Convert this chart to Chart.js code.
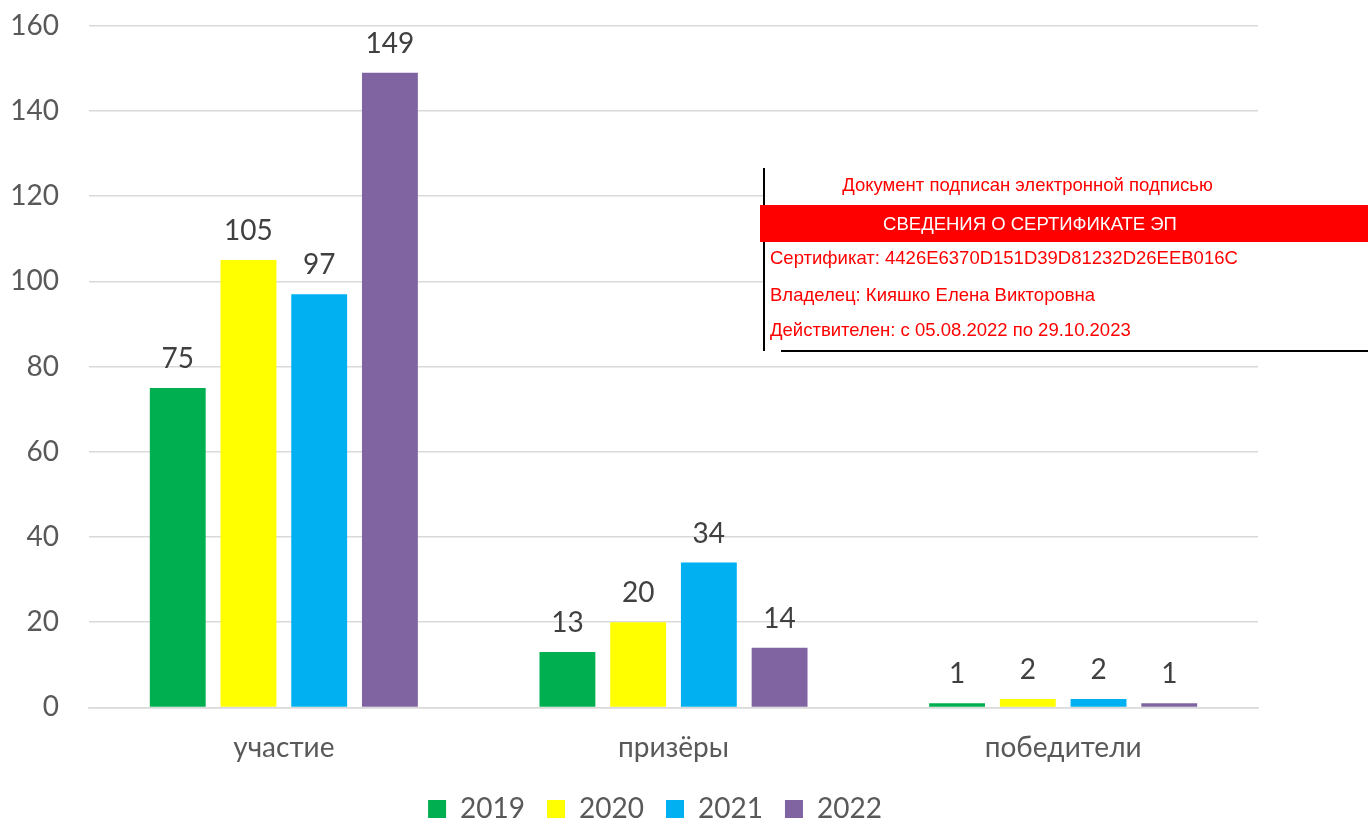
<!DOCTYPE html>
<html>
<head>
<meta charset="utf-8">
<script src="https://cdn.jsdelivr.net/npm/chart.js@4.4.0/dist/chart.umd.min.js"></script>
<style>
  html, body { margin: 0; padding: 0; background: #fff; }
  #wrap { position: relative; width: 1368px; height: 822px; overflow: hidden; }
  #chart { position: absolute; left: 0; top: -21px; }
  #sig {
    position: absolute; left: 763px; top: 168px; width: 605px; height: 183px;
    background: #fff; border-left: 2px solid #000;
    font-family: "Liberation Sans", sans-serif; font-size: 18.5px; color: #ff0000;
  }
  #sig .row { position: absolute; left: 5px; white-space: nowrap; }
  #sig .title { position: absolute; left: 0; right: 80px; top: 6px; text-align: center; }
  #sig .bar {
    position: absolute; left: -5px; right: 0; top: 37px; height: 37px;
    background: #ff0000; color: #fff; line-height: 37px;
  }
  #sig .bar span { position: absolute; left: 5px; right: 75px; text-align: center; }
  #sig .bottom { position: absolute; left: 16px; right: 2px; bottom: -1px; height: 2px; background: #000; }
</style>
</head>
<body>
<div id="wrap">
  <canvas id="chart" width="1368" height="862"></canvas>
  <div id="sig">
    <div class="title">Документ подписан электронной подписью</div>
    <div class="bar"><span>СВЕДЕНИЯ О СЕРТИФИКАТЕ ЭП</span></div>
    <div class="row" style="top:79px">Сертификат: 4426E6370D151D39D81232D26EEB016C</div>
    <div class="row" style="top:116px">Владелец: Кияшко Елена Викторовна</div>
    <div class="row" style="top:151px">Действителен: с 05.08.2022 по 29.10.2023</div>
    <div class="bottom"></div>
  </div>
</div>
<script>
const categories = ['участие', 'призёры', 'победители'];
const years = ['2019', '2020', '2021', '2022'];
const values2019 = [75, 13, 1];
const values2020 = [105, 20, 2];
const values2021 = [97, 34, 2];
const values2022 = [149, 14, 1];
const colors = ['#00B050', '#FFFF00', '#00B0F0', '#8064A2'];

const fontFamily = 'Lato, "Open Sans", sans-serif';

// value labels above each bar
const barLabels = {
  id: 'barLabels',
  afterDatasetsDraw(chart) {
    const ctx = chart.ctx;
    ctx.save();
    ctx.font = '28px ' + fontFamily;
    ctx.fillStyle = '#404040';
    ctx.textAlign = 'center';
    ctx.textBaseline = 'bottom';
    chart.data.datasets.forEach((ds, i) => {
      chart.getDatasetMeta(i).data.forEach((bar, j) => {
        ctx.fillText(ds.data[j], bar.x, bar.y - 15);
      });
    });
    ctx.restore();
  }
};

// nudge the legend a bit up and right, like the original
const legendNudge = {
  id: 'legendNudge',
  afterLayout(chart) {
    const l = chart.legend;
    l.top -= 8; l.bottom -= 8;
    l.left += 26; l.right += 26;
  }
};

new Chart(document.getElementById('chart'), {
  type: 'bar',
  data: {
    labels: categories,
    datasets: [values2019, values2020, values2021, values2022].map((d, i) => ({
      label: years[i],
      data: d,
      backgroundColor: colors[i],
      barPercentage: 0.79,
      categoryPercentage: 0.726
    }))
  },
  options: {
    responsive: false,
    animation: false,
    layout: { padding: { top: 0, right: 110, left: 0, bottom: 0 } },
    scales: {
      y: {
        min: 0, max: 160,
        ticks: { stepSize: 20, padding: 30, color: '#595959', font: { family: fontFamily, size: 28 } },
        grid: { color: '#d9d9d9', lineWidth: 1.5, drawTicks: false },
        border: { display: false },
        afterFit(s) { s.width = 89; }
      },
      x: {
        ticks: { padding: 16, color: '#595959', font: { family: fontFamily, size: 28 } },
        grid: { display: false },
        border: { color: '#d9d9d9', width: 1.5 }
      }
    },
    plugins: {
      legend: {
        position: 'bottom',
        labels: {
          boxWidth: 18, boxHeight: 18, padding: 22,
          color: '#595959', font: { family: fontFamily, size: 28 }
        }
      },
      tooltip: { enabled: false }
    }
  },
  plugins: [barLabels, legendNudge]
});
</script>
</body>
</html>
